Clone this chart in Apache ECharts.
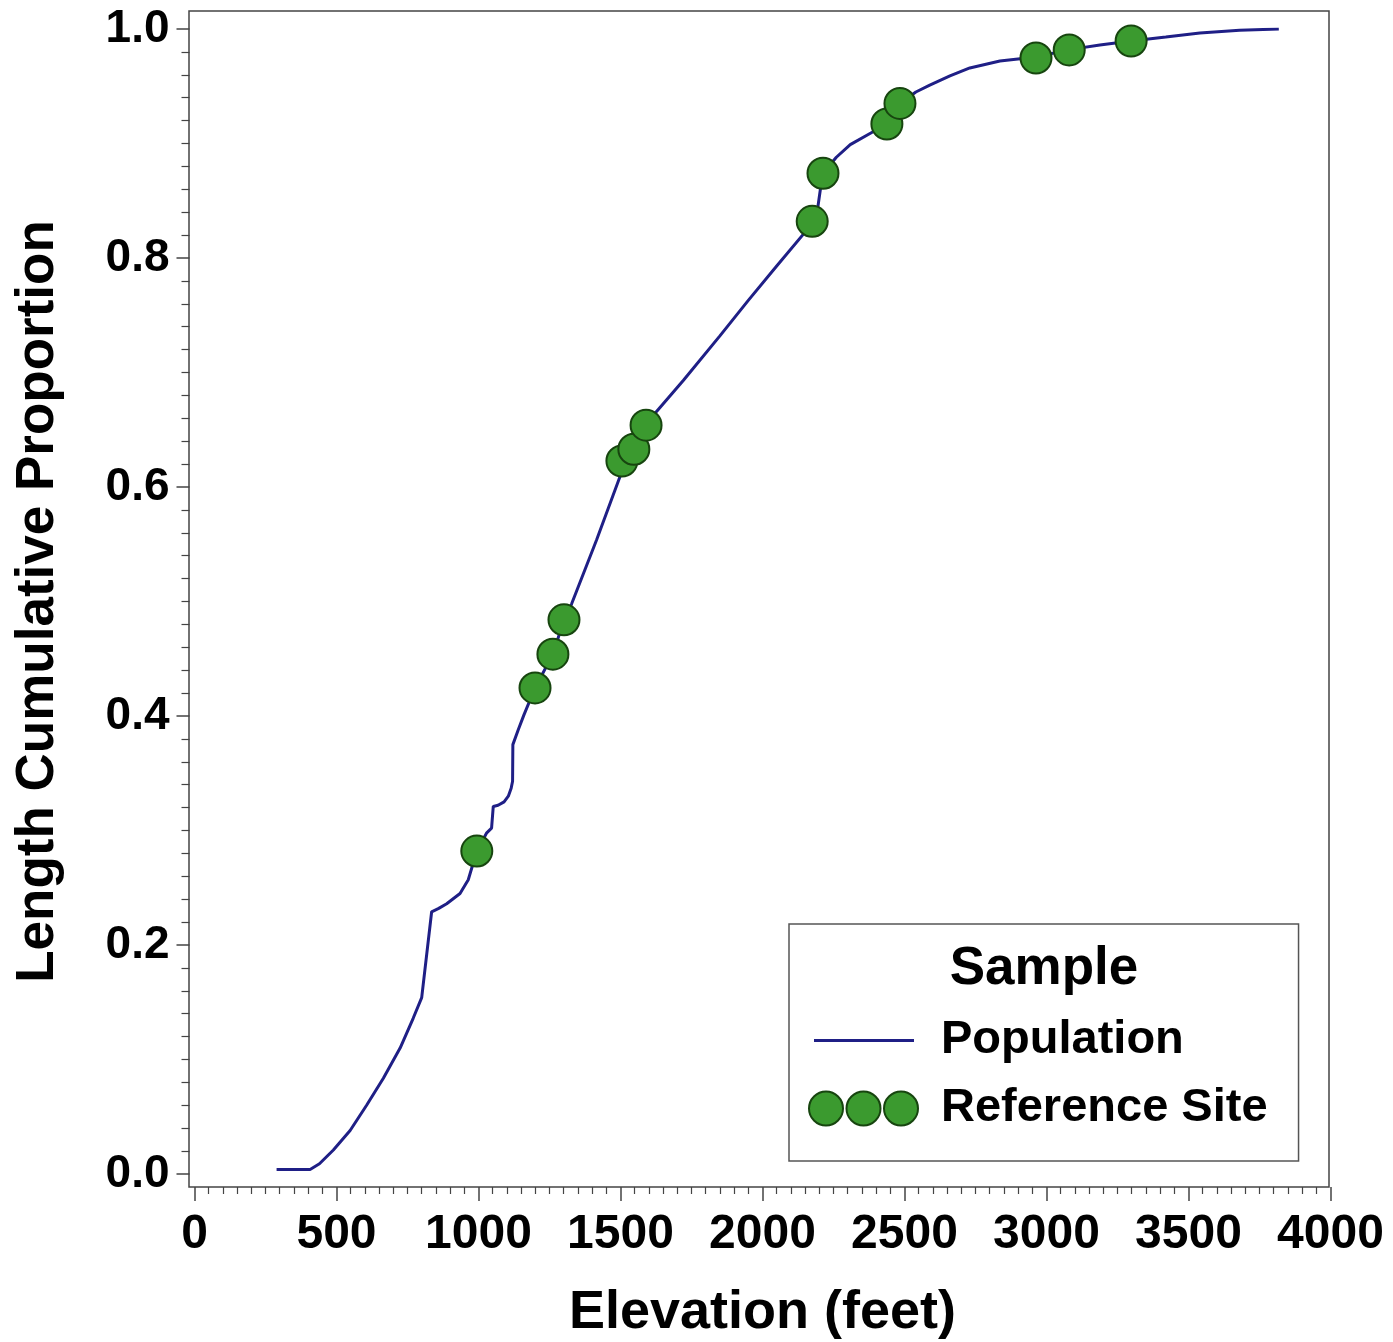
<!DOCTYPE html>
<html>
<head>
<meta charset="utf-8">
<script src="https://cdn.jsdelivr.net/npm/echarts@6/dist/echarts.min.js"></script>
<style>
html,body{margin:0;padding:0;background:#fff;}
#chart{width:1393px;height:1342px;}
</style>
</head>
<body>
<div id="chart"></div>
<script>
// Population curve (elevation in feet, cumulative proportion of length)
const popX = [289, 407, 440, 489, 548, 606, 665, 724, 770, 800, 835, 860, 888, 935, 964, 994, 1029, 1046, 1052, 1069, 1090, 1105, 1115, 1120, 1121, 1140, 1160, 1199, 1262, 1301, 1328, 1416, 1498, 1505, 1547, 1590, 1627, 1721, 1850, 1950, 2050, 2175, 2190, 2205, 2213, 2260, 2309, 2380, 2438, 2484, 2540, 2589, 2660, 2730, 2836, 2963, 3080, 3188, 3298, 3420, 3540, 3680, 3818];
const popY = [0.004, 0.004, 0.009, 0.021, 0.038, 0.060, 0.0836, 0.110, 0.136, 0.154, 0.229, 0.232, 0.236, 0.245, 0.257, 0.282, 0.298, 0.302, 0.321, 0.322, 0.325, 0.330, 0.337, 0.343, 0.375, 0.388, 0.401, 0.4245, 0.454, 0.484, 0.498, 0.554, 0.609, 0.616, 0.636, 0.654, 0.666, 0.693, 0.732, 0.763, 0.793, 0.830, 0.836, 0.862, 0.874, 0.888, 0.899, 0.909, 0.917, 0.935, 0.945, 0.951, 0.959, 0.966, 0.972, 0.9755, 0.982, 0.986, 0.9895, 0.993, 0.9965, 0.999, 1.0];

// Reference sites
const refX = [994, 1199, 1262, 1301, 1505, 1547, 1590, 2175, 2213, 2438, 2484, 2963, 3080, 3298];
const refY = [0.282, 0.4245, 0.454, 0.484, 0.6227, 0.633, 0.654, 0.832, 0.874, 0.917, 0.935, 0.9747, 0.9817, 0.9895];

// Axis ticks
const xTicks = [0, 500, 1000, 1500, 2000, 2500, 3000, 3500, 4000];
const yTicks = [0.0, 0.2, 0.4, 0.6, 0.8, 1.0];

const seriesNames = ['Population', 'Reference Site'];
const legendTitle = 'Sample';
const xTitle = 'Elevation (feet)';
const yTitle = 'Length Cumulative Proportion';

const FONT = '"Liberation Sans", Arial, Helvetica, sans-serif';
const LINE_COLOR = '#1f1f86';
const DOT_FILL = '#3b9a2f';
const DOT_BORDER = '#17450f';

const popData = popX.map((x, i) => [x, popY[i]]);
const refData = refX.map((x, i) => [x, refY[i]]);

const chart = echarts.init(document.getElementById('chart'), null, {renderer: 'canvas'});

const option = {
  backgroundColor: '#ffffff',
  animation: false,
  title: {
    text: legendTitle,
    left: 1039,
    top: 938,
    textAlign: 'center',
    z: 10,
    textStyle: {fontFamily: FONT, fontWeight: 'bold', fontSize: 53, color: '#000'}
  },
  grid: [
    {left: 194.5, right: 62.5, top: 29, bottom: 168, show: false, outerBoundsMode: 'none', containLabel: false},
    {left: 189, right: 64, top: 11, bottom: 155, show: true, borderColor: '#444', borderWidth: 1.5,
     backgroundColor: 'transparent', outerBoundsMode: 'none', containLabel: false}
  ],
  xAxis: [
    {
      type: 'value', gridIndex: 0,
      min: xTicks[0], max: xTicks[xTicks.length - 1], interval: 500,
      offset: 13,
      axisLine: {show: false, onZero: false},
      axisTick: {show: true, length: 14, lineStyle: {color: '#444', width: 1.5}},
      minorTick: {show: true, splitNumber: 10, length: 7, lineStyle: {color: '#444', width: 1.2}},
      splitLine: {show: false},
      axisLabel: {margin: 24, fontFamily: FONT, fontWeight: 'bold', fontSize: 48, color: '#000',
        formatter: v => String(v)},
      name: xTitle, nameLocation: 'middle', nameGap: 99,
      nameTextStyle: {fontFamily: FONT, fontWeight: 'bold', fontSize: 54, color: '#000'}
    },
    {type: 'value', gridIndex: 1, show: false, min: 0, max: 1}
  ],
  yAxis: [
    {
      type: 'value', gridIndex: 0,
      min: yTicks[0], max: yTicks[yTicks.length - 1], interval: 0.2,
      offset: 5,
      axisLine: {show: false, onZero: false},
      axisTick: {show: true, length: 13, lineStyle: {color: '#444', width: 1.5}},
      minorTick: {show: true, splitNumber: 10, length: 8, lineStyle: {color: '#444', width: 1.2}},
      splitLine: {show: false},
      axisLabel: {margin: 20, fontFamily: FONT, fontWeight: 'bold', fontSize: 46, color: '#000',
        formatter: v => v.toFixed(1)},
      name: yTitle, nameLocation: 'middle', nameGap: 125, nameRotate: 90,
      nameTextStyle: {fontFamily: FONT, fontWeight: 'bold', fontSize: 53, color: '#000'}
    },
    {type: 'value', gridIndex: 1, show: false, min: 0, max: 1}
  ],
  legend: {
    orient: 'vertical',
    left: 789, top: 924,
    padding: [93, 31, 29, 1],
    itemGap: 21,
    itemWidth: 145, itemHeight: 36,
    symbolKeepAspect: true,
    backgroundColor: '#fff',
    borderColor: '#555', borderWidth: 1.5,
    textStyle: {fontFamily: FONT, fontWeight: 'bold', fontSize: 47, color: '#000'},
    data: [
      {name: seriesNames[0], icon: 'path://M0,0M145,36M23,16.5H123V19.5H23Z',
       itemStyle: {color: LINE_COLOR, borderWidth: 0}},
      {name: seriesNames[1], icon: 'path://M0,0M145,36M18,18a17,17 0 1,0 34,0a17,17 0 1,0 -34,0ZM55.5,18a17,17 0 1,0 34,0a17,17 0 1,0 -34,0ZM93,18a17,17 0 1,0 34,0a17,17 0 1,0 -34,0Z',
       itemStyle: {color: DOT_FILL, borderColor: DOT_BORDER, borderWidth: 2}}
    ]
  },
  series: [
    {
      name: seriesNames[0], type: 'line', xAxisIndex: 0, yAxisIndex: 0,
      data: popData, showSymbol: false, symbol: 'none', smooth: false,
      color: LINE_COLOR,
      lineStyle: {color: LINE_COLOR, width: 3},
      z: 2
    },
    {
      name: seriesNames[1], type: 'scatter', xAxisIndex: 0, yAxisIndex: 0,
      data: refData, symbol: 'circle', symbolSize: 31,
      itemStyle: {color: DOT_FILL, borderColor: DOT_BORDER, borderWidth: 2, opacity: 1},
      z: 3
    }
  ]
};
chart.setOption(option);
</script>
</body>
</html>
